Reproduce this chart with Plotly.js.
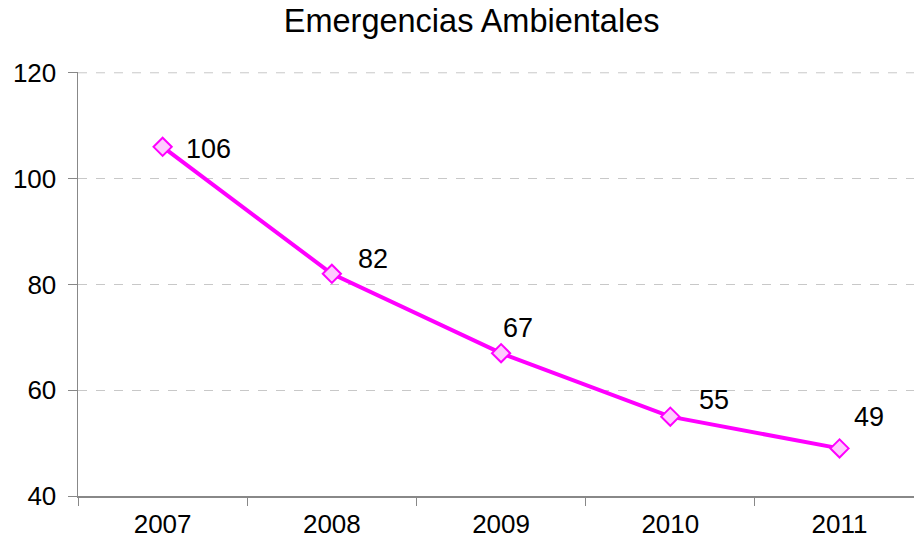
<!DOCTYPE html>
<html>
<head>
<meta charset="utf-8">
<script src="https://cdn.plot.ly/plotly-3.0.1.min.js"></script>
<style>html,body{margin:0;padding:0;background:#fff;}#chart{width:914px;height:542px;}</style>
</head>
<body>
<div id="chart"></div>
<script>
const years = ["2007", "2008", "2009", "2010", "2011"];
const values = [106, 82, 67, 55, 49];
const yTicks = [40, 60, 80, 100, 120];
const chartTitle = "Emergencias Ambientales";

// label offsets (px) for data labels, layout only
const labelShiftX = [46, 41, 17, 44, 29];
const labelShiftY = [-2, 15, 25, 17, 31];

const trace = {
  x: years,
  y: values,
  type: "scatter",
  mode: "lines+markers",
  line: {color: "#FF00FF", width: 4},
  marker: {symbol: "diamond", size: 14, color: "#FFCCFF", line: {color: "#FF00FF", width: 2}},
  hoverinfo: "x+y"
};

const annotations = years.map((yr, i) => ({
  x: i, y: values[i], xref: "x", yref: "y",
  text: String(values[i]), showarrow: false,
  xshift: labelShiftX[i], yshift: labelShiftY[i],
  font: {family: "Liberation Sans, Arial, sans-serif", size: 27, color: "#000"}
}));

const yMax = Math.max(...yTicks);

const layout = {
  width: 914, height: 542,
  paper_bgcolor: "#fff", plot_bgcolor: "#fff",
  margin: {l: 78, r: 0, t: 72, b: 46},
  showlegend: false,
  title: {text: chartTitle, x: 0.516, xanchor: "center", y: 0.962, yanchor: "middle",
          font: {family: "Liberation Sans, Arial, sans-serif", size: 32.5, color: "#000"}},
  xaxis: {
    type: "category", range: [-0.5, 4.44],
    tickson: "boundaries", ticks: "outside", ticklen: 8, tickcolor: "#888", tickwidth: 1,
    showline: true, linecolor: "#888", linewidth: 1.5,
    showgrid: false, zeroline: false,
    tickfont: {family: "Liberation Sans, Arial, sans-serif", size: 26, color: "#000"},
    ticklabelstandoff: 4
  },
  yaxis: {
    range: [40, 120.15], tickvals: yTicks, ticktext: yTicks.map(String),
    ticks: "outside", ticklen: 9, tickcolor: "#888", tickwidth: 1,
    showline: true, linecolor: "#888", linewidth: 1.5,
    showgrid: true, gridcolor: "#c8c8c8", griddash: "dash", gridwidth: 1,
    zeroline: false,
    tickfont: {family: "Liberation Sans, Arial, sans-serif", size: 26, color: "#000"},
    ticklabelstandoff: 6
  },
  shapes: [{
    type: "line", xref: "paper", yref: "y", x0: 0, x1: 1, y0: yMax, y1: yMax,
    line: {color: "#c8c8c8", width: 1, dash: "dash"}, layer: "below"
  }],
  annotations: annotations
};

Plotly.newPlot("chart", [trace], layout, {displayModeBar: false, staticPlot: true});
</script>
</body>
</html>
